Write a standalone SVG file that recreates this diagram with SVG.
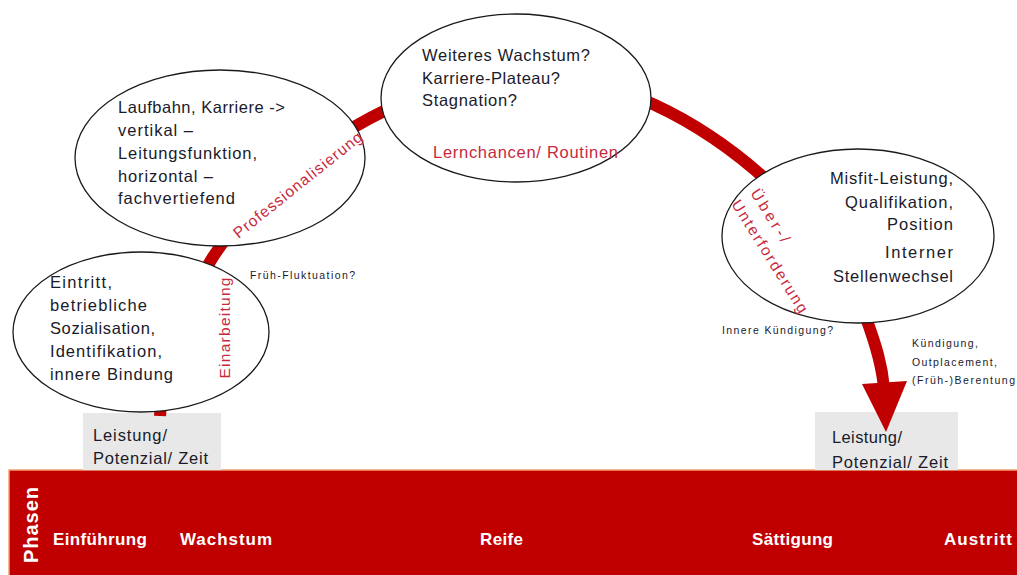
<svg xmlns="http://www.w3.org/2000/svg" width="1017" height="575" viewBox="0 0 1017 575">
<style>
.t{font-family:"Liberation Sans",Arial,sans-serif;font-size:16.5px;fill:#1a1a2a}
.s{font-family:"Liberation Sans",Arial,sans-serif;font-size:10.5px;fill:#1a1a2a}
.r{font-family:"Liberation Sans",Arial,sans-serif;font-size:15.5px;fill:#c8283c}
.p{font-family:"Liberation Sans",Arial,sans-serif;font-size:17px;font-weight:bold;fill:#ffffff}
.el{fill:#ffffff;stroke:#1a1a1a;stroke-width:1.3}
.box{fill:#e8e8e8}
</style>
<rect width="1017" height="575" fill="#ffffff"/>
<g id="band">
<rect x="9" y="470" width="1008" height="105" fill="#c00000"/>
<path d="M9,575 L9,470 L1017,470" fill="none" stroke="#f0a070" stroke-width="1.5"/>
<text class="p" transform="translate(38,525) rotate(-90)" text-anchor="middle" style="font-size:20px" textLength="76">Phasen</text>
<text class="p" x="53" y="545" textLength="94">Einführung</text>
<text class="p" x="180" y="545" textLength="92">Wachstum</text>
<text class="p" x="480" y="545" textLength="43">Reife</text>
<text class="p" x="752" y="545" textLength="81">Sättigung</text>
<text class="p" x="944" y="545" textLength="68">Austritt</text>
</g>
<g id="box-left">
<rect class="box" x="83" y="413" width="138" height="57"/>
<text class="t" x="93" y="441" textLength="74">Leistung/</text>
<text class="t" x="93" y="464" textLength="115">Potenzial/ Zeit</text>
</g>
<g id="box-right">
<rect class="box" x="815" y="412" width="143" height="58"/>
<text class="t" x="832" y="443" textLength="70">Leistung/</text>
<text class="t" x="832" y="468" textLength="116">Potenzial/ Zeit</text>
</g>
<g id="connectors">
<path d="M160,416 C165,320 220,190 390,108 C450,60 580,70 655,105 C730,140 830,220 866,318 C876,345 882,365 884,388" fill="none" stroke="#c00000" stroke-width="12"/>
<polygon points="862,384 907,381 886,432" fill="#c00000"/>
</g>
<g id="node-eintritt">
<ellipse class="el" cx="141" cy="332" rx="128" ry="80"/>
<text class="t" x="50" y="288" textLength="62">Eintritt,</text>
<text class="t" x="50" y="311" textLength="97">betriebliche</text>
<text class="t" x="50" y="334" textLength="105">Sozialisation,</text>
<text class="t" x="50" y="357" textLength="112">Identifikation,</text>
<text class="t" x="50" y="380" textLength="123">innere Bindung</text>
</g>
<g id="node-laufbahn">
<ellipse class="el" cx="220" cy="158" rx="145" ry="88"/>
<text class="t" x="118" y="113" textLength="167">Laufbahn, Karriere -&gt;</text>
<text class="t" x="118" y="136" textLength="75">vertikal –</text>
<text class="t" x="118" y="159" textLength="139">Leitungsfunktion,</text>
<text class="t" x="118" y="182" textLength="95">horizontal –</text>
<text class="t" x="118" y="204" textLength="117">fachvertiefend</text>
</g>
<g id="node-wachstum">
<ellipse class="el" cx="516" cy="98" rx="135" ry="84"/>
<text class="t" x="422" y="61" textLength="168">Weiteres Wachstum?</text>
<text class="t" x="422" y="84" textLength="138">Karriere-Plateau?</text>
<text class="t" x="422" y="106" textLength="95">Stagnation?</text>
<text class="r" x="433" y="158" style="font-size:16.5px" textLength="185">Lernchancen/ Routinen</text>
</g>
<g id="node-misfit">
<ellipse class="el" cx="858" cy="236" rx="136" ry="87"/>
<text class="t" x="953" y="184" text-anchor="end" textLength="123">Misfit-Leistung,</text>
<text class="t" x="953" y="208" text-anchor="end" textLength="108">Qualifikation,</text>
<text class="t" x="953" y="230" text-anchor="end" textLength="66">Position</text>
<text class="t" x="953" y="258" text-anchor="end" textLength="68">Interner</text>
<text class="t" x="953" y="282" text-anchor="end" textLength="120">Stellenwechsel</text>
</g>
<g id="labels">
<text class="r" transform="translate(230,328) rotate(-90)" text-anchor="middle" textLength="101">Einarbeitung</text>
<text class="r" transform="translate(301,189) rotate(-38.6)" text-anchor="middle" textLength="160">Professionalisierung</text>
<text class="r" transform="translate(750,193) rotate(58)" textLength="60">Über-/</text>
<text class="r" transform="translate(731,204) rotate(58)" textLength="130">Unterforderung</text>
<text class="s" x="250" y="279" textLength="105">Früh-Fluktuation?</text>
<text class="s" x="722" y="334" textLength="111">Innere  Kündigung?</text>
<text class="s" x="912" y="347" textLength="66">Kündigung,</text>
<text class="s" x="912" y="366" textLength="85">Outplacement,</text>
<text class="s" x="912" y="384" textLength="103">(Früh-)Berentung</text>
</g>
</svg>
